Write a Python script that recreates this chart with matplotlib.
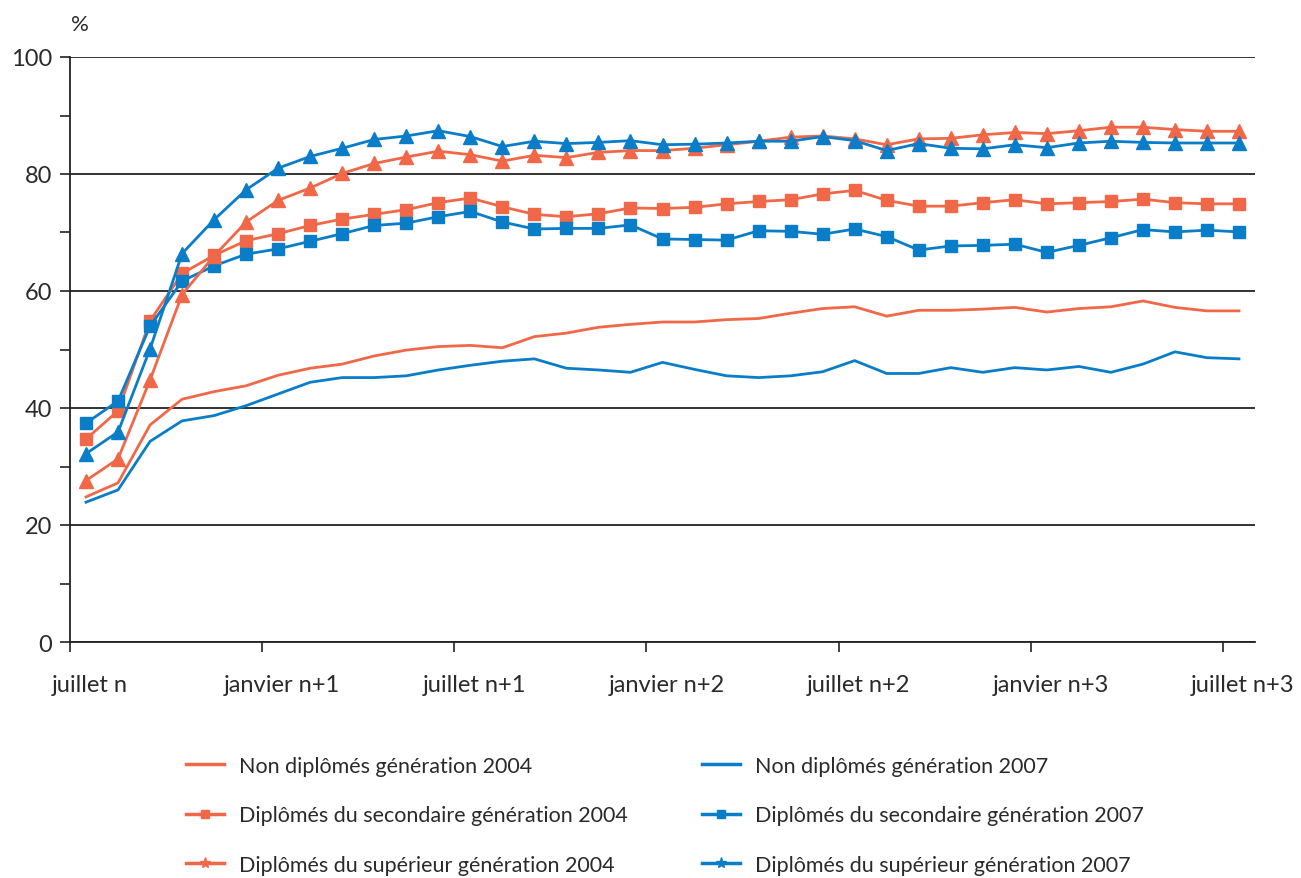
import matplotlib
matplotlib.use("Agg")
import matplotlib.pyplot as plt
import matplotlib.transforms as mtransforms
from matplotlib.lines import Line2D
import numpy as np

plt.rcParams['font.family'] = ['Lato', 'DejaVu Sans']

months = [k + 0.5 for k in range(37)]

non_2004 = [24.8, 27.2, 37.1, 41.5, 42.8, 43.8, 45.6, 46.8, 47.5, 48.9,
            49.9, 50.5, 50.7, 50.3, 52.2, 52.8, 53.8, 54.3, 54.7, 54.7,
            55.1, 55.3, 56.2, 57.0, 57.3, 55.7, 56.7, 56.7, 56.9, 57.2,
            56.4, 57.0, 57.3, 58.3, 57.2, 56.6, 56.6]
non_2007 = [23.9, 26.0, 34.3, 37.8, 38.7, 40.4, 42.4, 44.4, 45.2, 45.2,
            45.5, 46.5, 47.3, 48.0, 48.4, 46.8, 46.5, 46.1, 47.8, 46.6,
            45.5, 45.2, 45.5, 46.2, 48.1, 45.9, 45.9, 46.9, 46.1, 46.9,
            46.5, 47.1, 46.1, 47.5, 49.6, 48.6, 48.4]
sec_2004 = [34.7, 39.5, 54.9, 63.0, 66.1, 68.6, 69.8, 71.2, 72.3, 73.1,
            73.9, 75.1, 75.9, 74.4, 73.1, 72.7, 73.2, 74.2, 74.1, 74.3,
            74.9, 75.3, 75.6, 76.6, 77.2, 75.5, 74.5, 74.5, 75.1, 75.6,
            74.9, 75.1, 75.3, 75.7, 75.1, 74.9, 74.9]
sec_2007 = [37.4, 41.2, 54.0, 61.7, 64.3, 66.3, 67.2, 68.5, 69.8, 71.2,
            71.6, 72.7, 73.6, 71.8, 70.6, 70.7, 70.7, 71.3, 68.9, 68.8,
            68.7, 70.3, 70.2, 69.7, 70.6, 69.3, 67.0, 67.7, 67.8, 68.0,
            66.6, 67.8, 69.1, 70.5, 70.1, 70.4, 70.1]
sup_2004 = [27.6, 31.3, 44.8, 59.4, 66.0, 71.8, 75.5, 77.6, 80.1, 81.8,
            82.9, 83.9, 83.3, 82.2, 83.2, 82.8, 83.7, 84.0, 84.0, 84.4,
            85.0, 85.6, 86.3, 86.5, 86.0, 85.0, 86.0, 86.1, 86.7, 87.1,
            86.9, 87.4, 88.0, 88.0, 87.6, 87.3, 87.3]
sup_2007 = [32.2, 35.9, 50.1, 66.4, 72.2, 77.3, 81.0, 83.0, 84.4, 85.9,
            86.5, 87.4, 86.4, 84.7, 85.6, 85.2, 85.4, 85.7, 85.0, 85.1,
            85.3, 85.6, 85.6, 86.4, 85.7, 84.0, 85.2, 84.4, 84.3, 85.0,
            84.5, 85.3, 85.6, 85.4, 85.3, 85.3, 85.3]

tick_pos = [0, 6, 12, 18, 24, 30, 36]
tick_labels = ["juillet n", "janvier n+1", "juillet n+1", "janvier n+2",
               "juillet n+2", "janvier n+3", "juillet n+3"]

labels = ["Non diplômés génération 2004",
          "Diplômés du secondaire génération 2004",
          "Diplômés du supérieur génération 2004",
          "Non diplômés génération 2007",
          "Diplômés du secondaire génération 2007",
          "Diplômés du supérieur génération 2007"]

ORANGE = '#F06848'
BLUE = '#0A7DC8'
TXT = '#2a2a2a'

fig = plt.figure(figsize=(13.01, 8.79), dpi=100)
ax = fig.add_axes([70/1301, 1-643/879, (1255-70)/1301, (643-58)/879])

lw = 2.0
ax.plot(months, non_2004, color=ORANGE, lw=lw, zorder=3)
ax.plot(months, non_2007, color=BLUE, lw=lw, zorder=3)
ax.plot(months, sec_2004, color=ORANGE, lw=lw, marker='s', ms=9, zorder=4)
ax.plot(months, sec_2007, color=BLUE, lw=lw, marker='s', ms=9, zorder=4)
ax.plot(months, sup_2004, color=ORANGE, lw=lw, marker='^', ms=10, zorder=5)
ax.plot(months, sup_2007, color=BLUE, lw=lw, marker='^', ms=10, zorder=5)

ax.set_xlim(0, 37)
ax.set_ylim(0, 100)
for s in ['top', 'right']:
    ax.spines[s].set_visible(False)
for s in ['left', 'bottom']:
    ax.spines[s].set_color('#222222')
    ax.spines[s].set_linewidth(1.3)

ax.set_yticks([0, 20, 40, 60, 80, 100])
ax.set_yticks([10, 30, 50, 70, 90], minor=True)
ax.yaxis.grid(True, which='major', color='#222222', lw=1.3)
ax.set_axisbelow(True)
ax.tick_params(axis='y', which='both', direction='out', length=7, width=1.2,
               color='#222222', labelsize=17, labelcolor=TXT, pad=6)
ax.set_xticks(tick_pos)
ax.set_xticklabels(tick_labels)
ax.tick_params(axis='x', direction='out', length=7, width=1.2, color='#222222',
               labelsize=17, labelcolor=TXT, pad=16)
offset = mtransforms.ScaledTranslation(20/100, 0, fig.dpi_scale_trans)
for lab in ax.get_xticklabels():
    lab.set_transform(lab.get_transform() + offset)

fig.text(80/1301, 1-25/879, "%", fontsize=16, color=TXT, ha='center', va='center')

handles = [
    Line2D([], [], color=ORANGE, lw=2.5),
    Line2D([], [], color=ORANGE, lw=2.5, marker='s', ms=6),
    Line2D([], [], color=ORANGE, lw=2.5, marker='*', ms=8),
    Line2D([], [], color=BLUE, lw=2.5),
    Line2D([], [], color=BLUE, lw=2.5, marker='s', ms=6),
    Line2D([], [], color=BLUE, lw=2.5, marker='*', ms=8),
]
leg = fig.legend(handles, labels, ncol=2, loc='upper left',
                 bbox_to_anchor=(177/1301, 1-748/879), frameon=False,
                 fontsize=15.5, handlelength=1.8, handletextpad=0.7,
                 columnspacing=3.4, labelspacing=1.38, borderaxespad=0)
for t in leg.get_texts():
    t.set_color(TXT)

fig.savefig("out.png", dpi=100)
